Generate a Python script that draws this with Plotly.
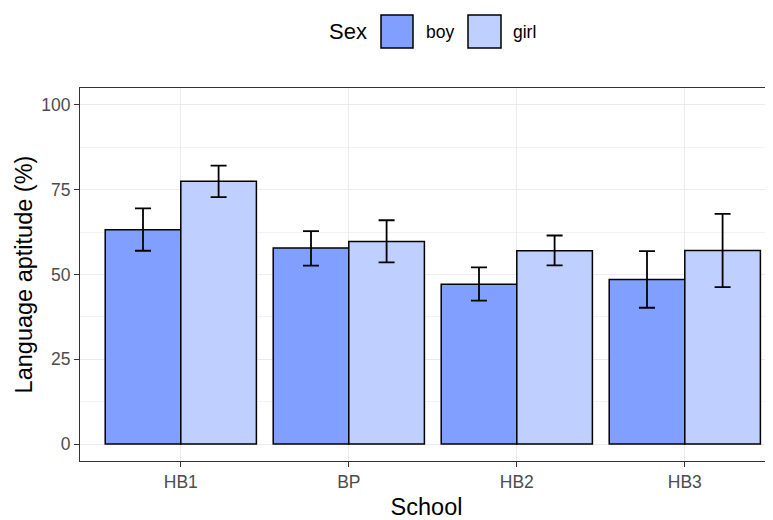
import plotly.graph_objects as go

schools = ["HB1", "BP", "HB2", "HB3"]
sexes = ["boy", "girl"]
boy_mean = [63.2, 57.8, 47.1, 48.5]
boy_upper = [69.5, 62.8, 52.1, 56.9]
boy_lower = [57.0, 52.6, 42.3, 40.2]
girl_mean = [77.5, 59.7, 57.0, 57.1]
girl_upper = [82.1, 66.0, 61.5, 67.9]
girl_lower = [72.8, 53.6, 52.7, 46.3]
y_ticks = [0, 25, 50, 75, 100]
y_minor = [12.5, 37.5, 62.5, 87.5]

colors = {"boy": "#809FFF", "girl": "#BFCFFF"}
FONT = "Liberation Sans, Arial, sans-serif"

OFF = 8  # page body margin
W, H = 773 - OFF, 520 - OFF
L, R, T, B = 80 - OFF, 0, 88 - OFF, 520 - 461
PW, PH = W - L - R, H - T - B


def px(x):
    return (x - OFF - L) / PW


def py(y):
    return (H - B - (y - OFF)) / PH


fig = go.Figure()
series = {
    "boy": (boy_mean, boy_upper, boy_lower),
    "girl": (girl_mean, girl_upper, girl_lower),
}
for s in sexes:
    m, up, lo = series[s]
    fig.add_trace(go.Bar(
        x=schools, y=m, name=s,
        marker=dict(color=colors[s], line=dict(color="black", width=1.5)),
        error_y=dict(type="data", symmetric=False,
                     array=[u - v for u, v in zip(up, m)],
                     arrayminus=[v - l for v, l in zip(m, lo)],
                     color="black", thickness=1.8, width=8),
        showlegend=False,
    ))

fig.update_layout(
    width=W, height=H,
    margin=dict(l=L, r=R, t=T, b=B),
    paper_bgcolor="white", plot_bgcolor="white",
    barmode="group", bargap=0.1, bargroupgap=0,
    font=dict(family=FONT, color="black"),
)
fig.update_xaxes(
    type="category", range=[-0.6, 3.525],
    showgrid=True, gridcolor="#EBEBEB", gridwidth=1.1,
    showline=True, linecolor="#333333", linewidth=1.1, mirror=True,
    ticks="outside", ticklen=5, tickcolor="#333333", tickwidth=1.1,
    tickfont=dict(size=17.5, color="#4D4D4D", family=FONT),
    title=dict(text="School", font=dict(size=23.5, color="black", family=FONT), standoff=10),
    zeroline=False, automargin=False,
)
fig.update_yaxes(
    range=[-5, 105], tickvals=y_ticks,
    showgrid=True, gridcolor="#EBEBEB", gridwidth=1.1,
    minor=dict(tickvals=y_minor, showgrid=True, gridcolor="#F2F2F2", gridwidth=0.7),
    showline=True, linecolor="#333333", linewidth=1.1,
    ticks="outside", ticklen=5, tickcolor="#333333", tickwidth=1.1,
    tickfont=dict(size=17.5, color="#4D4D4D", family=FONT),
    title=dict(text="Language aptitude (%)", font=dict(size=23.5, color="black", family=FONT), standoff=2),
    zeroline=False, automargin=False,
)

# legend drawn manually to match ggplot key sizes
boxes = [("boy", 381, 413, 426), ("girl", 468, 501, 513)]
for s, x0, x1, tx in boxes:
    fig.add_shape(type="rect", xref="paper", yref="paper",
                  x0=px(x0), x1=px(x1), y0=py(48), y1=py(15),
                  fillcolor=colors[s], line=dict(color="black", width=1.5))
    fig.add_annotation(xref="paper", yref="paper", x=px(tx), y=py(32),
                       text=s, showarrow=False, xanchor="left", yanchor="middle",
                       xshift=-2, font=dict(size=17.5, color="black", family=FONT))
fig.add_annotation(xref="paper", yref="paper", x=px(329), y=py(32),
                   text="Sex", showarrow=False, xanchor="left", yanchor="middle",
                   xshift=-2, font=dict(size=22, color="black", family=FONT))

fig.write_html("out.html")
